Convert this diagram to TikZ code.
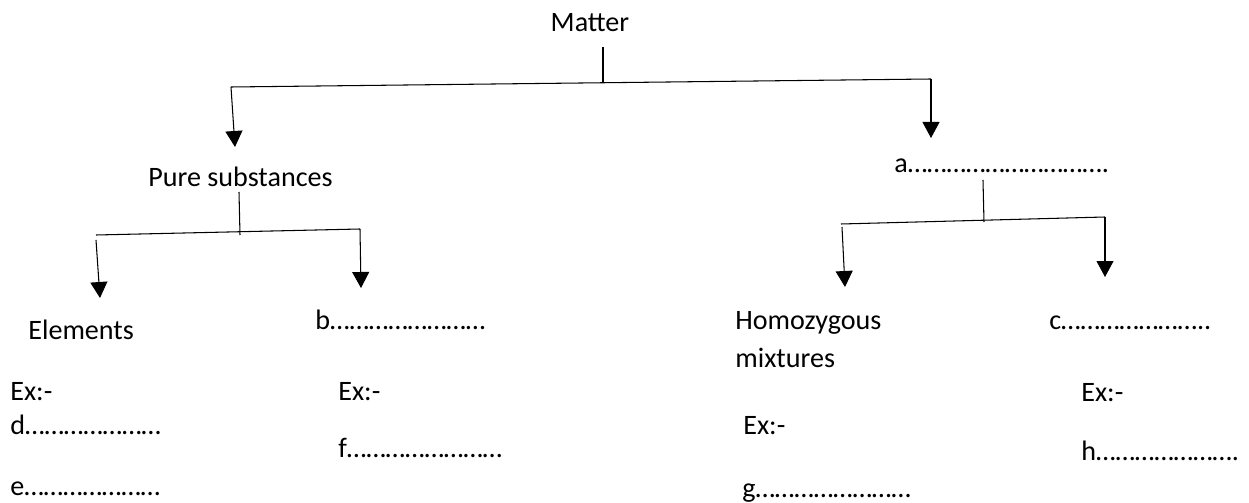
\documentclass[tikz,border=0pt]{standalone}
\usepackage{fontspec}
\setmainfont{Carlito}
\usetikzlibrary{arrows.meta,positioning}
\ExplSyntaxOn
\cs_new:Npn \blanks #1 { \prg_replicate:nn {#1} {…} }
\ExplSyntaxOff
\tikzstyle{txt} = [
    inner sep=0pt,
    anchor=base west,
    font=\fontsize{16}{19}\selectfont
]
\tikzstyle{arrow} = [
    line width=0.6pt,
    -{Triangle[length=0.32cm,width=0.34cm]}
]
\tikzstyle{bar} = [
    line width=0.6pt
]

\begin{document}
\begin{tikzpicture}[x=0.02cm, y=-0.02cm]
\useasboundingbox (0,0) rectangle (1249,503);

% Ebene 1
\node (matter) [txt, anchor=base] at (590,32) {Matter};
\node (pure) [txt] at (148,187) {Pure substances};
\node (mixt) [txt] at (894,173) {a\blanks{10}.};

\coordinate (mTop) at (603,47);
\coordinate (mMid) at (603,83);
\coordinate (mL) at (231,87);
\coordinate (mR) at (931,79);
\coordinate (pureTip) at (235,147);
\coordinate (mixtTip) at (931,138);

\draw [bar] (mTop) -- (mMid);
\draw [bar] (mL) -- (mR);
\draw [arrow] (mL) -- (pureTip);
\draw [arrow] (mR) -- (mixtTip);

% linker Zweig
\node (elem) [txt] at (28,340) {Elements};
\node (comp) [txt] at (315,330) {b\blanks{8}};
\node (exD) [txt] at (10,401) {Ex:-};
\node (d) [txt] at (10,435) {d\blanks{7}};
\node (e) [txt] at (10,496) {e\blanks{7}};
\node (exF) [txt] at (338,401) {Ex:-};
\node (f) [txt] at (338,458) {f\blanks{8}};

\coordinate (pTop) at (239,192);
\coordinate (pMid) at (240,235);
\coordinate (pL) at (96,235);
\coordinate (pR) at (360,229);
\coordinate (pL2) at (96,240);
\coordinate (elemTip) at (100,298);
\coordinate (compTip) at (361,288);

\draw [bar] (pTop) -- (pMid);
\draw [bar] (pL) -- (pR);
\draw [arrow] (pL2) -- (elemTip);
\draw [arrow] (pR) -- (compTip);

% rechter Zweig
\node (homo) [txt] at (735,330) {Homozygous};
\node (homo2) [txt] at (735,368) {mixtures};
\node (hetero) [txt] at (1049,330) {c\blanks{7}..};
\node (exG) [txt] at (743,435) {Ex:-};
\node (g) [txt] at (742,498) {g\blanks{8}};
\node (exH) [txt] at (1081,402) {Ex:-};
\node (h) [txt] at (1081,461) {h\blanks{7}.};

\coordinate (aTop) at (983,180);
\coordinate (aMid) at (984,222);
\coordinate (aL) at (841,224);
\coordinate (aR) at (1105,217);
\coordinate (aL2) at (842,227);
\coordinate (homoTip) at (845,287);
\coordinate (heteroTip) at (1105,277);

\draw [bar] (aTop) -- (aMid);
\draw [bar] (aL) -- (aR);
\draw [arrow] (aL2) -- (homoTip);
\draw [arrow] (aR) -- (heteroTip);

\end{tikzpicture}
\end{document}
